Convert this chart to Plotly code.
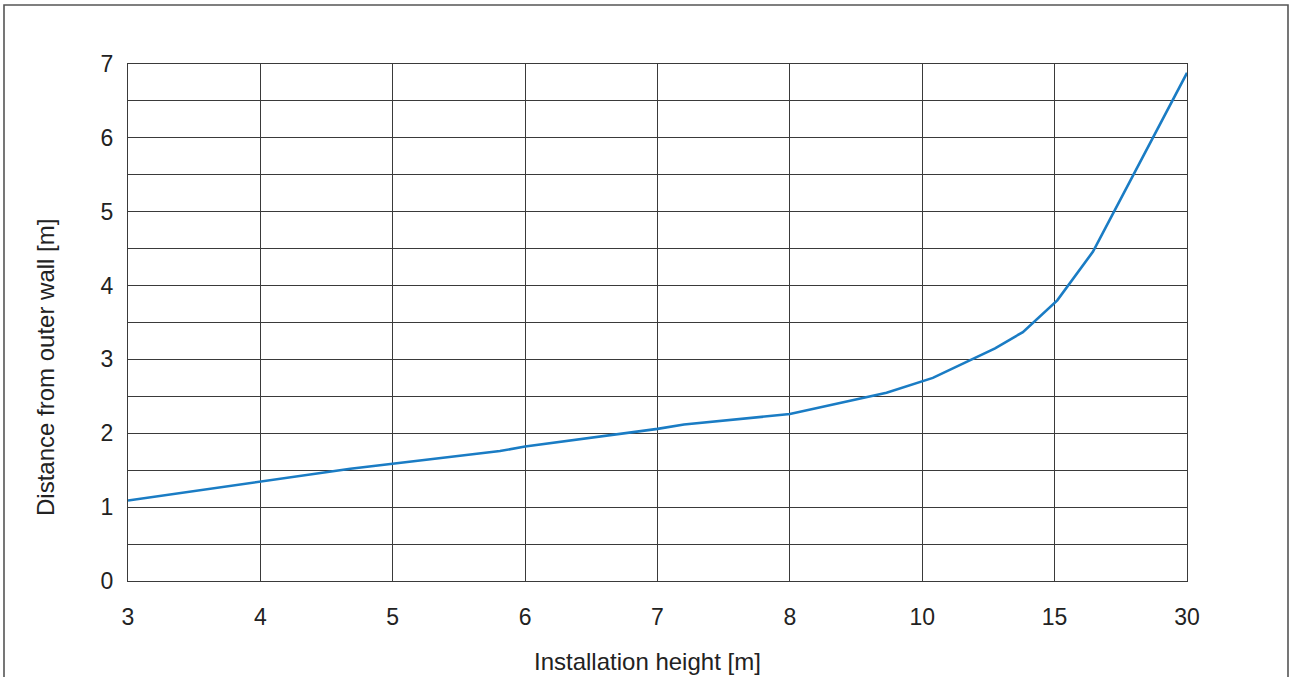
import plotly.graph_objects as go

# Category tick labels (evenly spaced on the x axis)
x_tick_labels = ["3", "4", "5", "6", "7", "8", "10", "15", "30"]
x_tick_positions = list(range(len(x_tick_labels)))

# Curve points: position along the evenly spaced height axis and distance [m]
curve_pos = [0.0, 1.0, 1.68, 2.81, 3.0, 4.0, 4.2, 5.0, 5.73, 6.08, 6.55, 6.76, 7.02, 7.29, 8.0]
curve_dist = [1.09, 1.34, 1.52, 1.76, 1.82, 2.06, 2.12, 2.26, 2.55, 2.75, 3.15, 3.37, 3.80, 4.46, 6.88]

y_tick_values = [0, 1, 2, 3, 4, 5, 6, 7]

FONT = "Liberation Sans, Arial, Helvetica, sans-serif"
GRID = "#3a3a3a"
TXT = "#222222"

L, R, T, B = 128, 1187, 64, 581
PW, PH = R - L, B - T

fig = go.Figure()
fig.add_trace(go.Scatter(
    x=curve_pos, y=curve_dist, mode="lines",
    line=dict(color="#1a7cc4", width=2.6),
    hoverinfo="skip", showlegend=False,
))

fig.update_layout(
    width=1290, height=677,
    margin=dict(l=L, r=1290 - R, t=T, b=677 - B),
    paper_bgcolor="white", plot_bgcolor="white",
    font=dict(family=FONT, size=23, color=TXT),
    showlegend=False,
    xaxis=dict(
        range=[0, 8], tickvals=x_tick_positions, ticktext=x_tick_labels,
        showgrid=True, gridcolor=GRID, gridwidth=1,
        showline=True, linecolor=GRID, linewidth=1.2, mirror=True,
        zeroline=False, ticks="", ticklabelstandoff=15,
        tickfont=dict(size=23, color=TXT),
    ),
    yaxis=dict(
        range=[0, 7], tickvals=y_tick_values,
        showgrid=True, gridcolor=GRID, gridwidth=1,
        minor=dict(dtick=0.5, tick0=0, showgrid=True, gridcolor=GRID, gridwidth=1),
        showline=True, linecolor=GRID, linewidth=1.2, mirror=True,
        zeroline=False, ticks="", ticklabelstandoff=9,
        tickfont=dict(size=23, color=TXT),
    ),
    annotations=[
        dict(text="Installation height [m]", xref="paper", yref="paper",
             x=(647.5 - L) / PW, y=(B - 661) / PH,
             xanchor="center", yanchor="middle", showarrow=False,
             font=dict(size=24, color=TXT, family=FONT)),
        dict(text="Distance from outer wall [m]", xref="paper", yref="paper",
             x=(45 - L) / PW, y=(B - 368) / PH, textangle=-90,
             xanchor="center", yanchor="middle", showarrow=False,
             font=dict(size=24, color=TXT, family=FONT)),
    ],
    shapes=[
        dict(type="rect", xref="paper", yref="paper",
             x0=(4 - L) / PW, x1=(1288 - L) / PW,
             y0=(B - 720) / PH, y1=(B - 5) / PH,
             line=dict(color="#555555", width=1.6), layer="below"),
    ],
)

fig.write_html(
    "out.html",
    config={"displayModeBar": False, "staticPlot": True},
    post_script="document.body.style.margin='0';document.body.style.overflow='hidden';",
)
